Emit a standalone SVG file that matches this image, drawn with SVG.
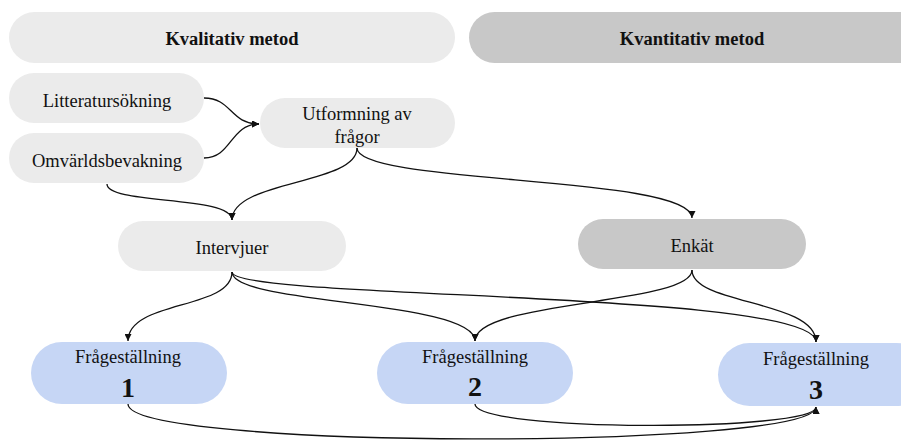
<svg xmlns="http://www.w3.org/2000/svg" width="901" height="442" viewBox="0 0 901 442">
<style>
.t{font-family:"Liberation Serif","DejaVu Serif",serif;font-size:18.5px;fill:#111;text-anchor:middle}
.b{font-weight:bold}
.n{font-family:"Liberation Serif","DejaVu Serif",serif;font-size:28px;font-weight:bold;fill:#111;text-anchor:middle}
.g1{fill:#ebebeb}
.g2{fill:#c8c8c8}
.bl{fill:#c6d6f5}
.c{fill:none;stroke:#111;stroke-width:1.3}
</style>
<defs>
<marker id="ah" viewBox="0 0 10 10" refX="10" refY="5" markerWidth="8" markerHeight="7" markerUnits="userSpaceOnUse" orient="auto">
<path d="M0,0 L10,5 L0,10 z" fill="#111"/>
</marker>
</defs>
<g id="kvalitativ"><rect class="g1" x="9" y="12" width="446" height="51" rx="25.5"/><text class="t b" x="232" y="45">Kvalitativ metod</text></g>
<g id="kvantitativ"><rect class="g2" x="469" y="12" width="460" height="51" rx="25.5"/><text class="t b" x="692" y="45">Kvantitativ metod</text></g>
<g id="litteratur"><rect class="g1" x="9" y="73" width="195" height="50" rx="25"/><text class="t" x="107" y="107">Litteratursökning</text></g>
<g id="omvarld"><rect class="g1" x="9" y="133" width="195" height="50" rx="25"/><text class="t" x="107" y="167">Omvärldsbevakning</text></g>
<g id="utformning"><rect class="g1" x="260" y="98" width="195" height="50" rx="25"/><text class="t" x="357" y="120">Utformning av</text><text class="t" x="357" y="143">frågor</text></g>
<g id="intervjuer"><rect class="g1" x="118" y="221" width="228" height="50" rx="25"/><text class="t" x="232" y="254">Intervjuer</text></g>
<g id="enkat"><rect class="g2" x="578" y="219" width="228" height="50" rx="25"/><text class="t" x="692" y="252">Enkät</text></g>
<g id="f1"><rect class="bl" x="31" y="342" width="196" height="62" rx="31"/><text class="t" x="128" y="363">Frågeställning</text><text class="n" x="128" y="397">1</text></g>
<g id="f2"><rect class="bl" x="377" y="342" width="196" height="62" rx="31"/><text class="t" x="475" y="363">Frågeställning</text><text class="n" x="475" y="396">2</text></g>
<g id="f3"><rect class="bl" x="718" y="343" width="210" height="63" rx="31.5"/><text class="t" x="816" y="365">Frågeställning</text><text class="n" x="816" y="399">3</text></g>
<g id="connectors">
<path class="c" marker-end="url(#ah)" d="M204,98 C232,98 230,124 259,124"/>
<path class="c" marker-end="url(#ah)" d="M204,158 C232,158 230,124 259,124"/>
<path class="c" marker-end="url(#ah)" d="M107,184 C107,205 232,195 232,220"/>
<path class="c" marker-end="url(#ah)" d="M357,148 C357,185 232,180 232,220"/>
<path class="c" marker-end="url(#ah)" d="M357,148 C357,185 692,175 692,218"/>
<path class="c" marker-end="url(#ah)" d="M232,272 C232,310 128,300 128,341"/>
<path class="c" marker-end="url(#ah)" d="M232,272 C232,305 475,300 475,341"/>
<path class="c" marker-end="url(#ah)" d="M232,272 C232,300 816,290 816,342"/>
<path class="c" marker-end="url(#ah)" d="M692,270 C692,305 475,300 475,341"/>
<path class="c" marker-end="url(#ah)" d="M692,270 C692,305 816,300 816,342"/>
<path class="c" marker-end="url(#ah)" d="M128,404 C128,450 816,450 816,407"/>
<path class="c" marker-end="url(#ah)" d="M475,404 C475,432 816,432 816,407"/>
</g>
</svg>
